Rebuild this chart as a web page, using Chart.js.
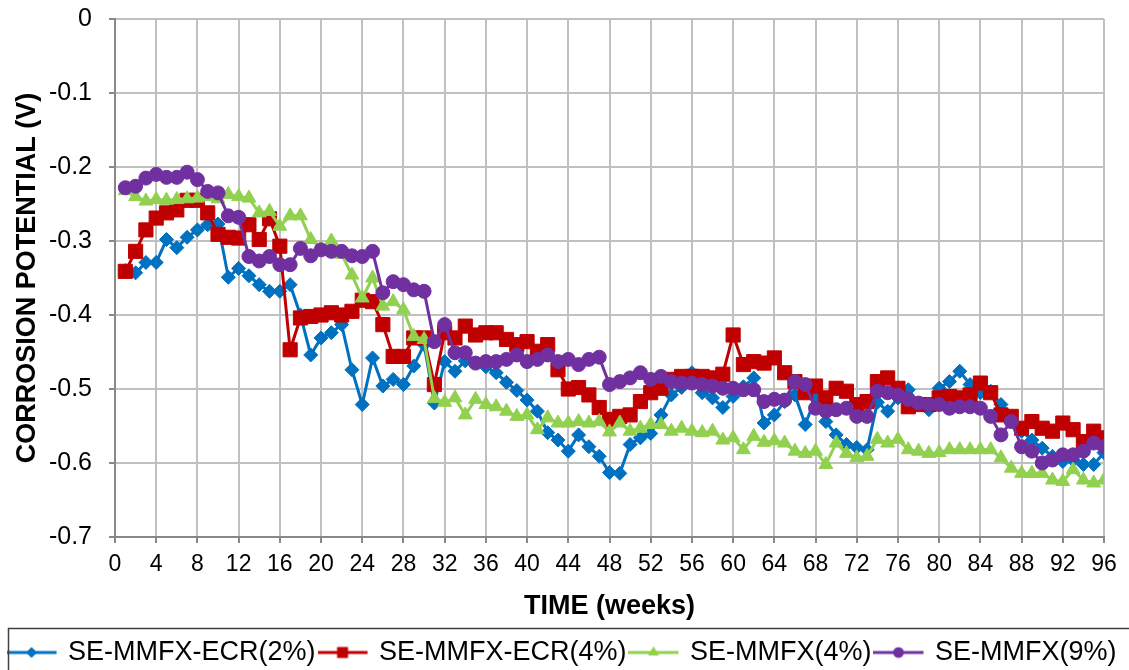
<!DOCTYPE html>
<html>
<head>
<meta charset="utf-8">
<script src="https://cdn.jsdelivr.net/npm/chart.js@4/dist/chart.umd.min.js"></script>
<style>
html,body{margin:0;padding:0;background:#fff;}
#wrap{width:1129px;height:670px;position:relative;}
</style>
</head>
<body>
<div id="wrap"><canvas id="c" width="1129" height="670"></canvas></div>
<script>
const weeks = [1,2,3,4,5,6,7,8,9,10,11,12,13,14,15,16,17,18,19,20,21,22,23,24,25,26,27,28,29,30,31,32,33,34,35,36,37,38,39,40,41,42,43,44,45,46,47,48,49,50,51,52,53,54,55,56,57,58,59,60,61,62,63,64,65,66,67,68,69,70,71,72,73,74,75,76,77,78,79,80,81,82,83,84,85,86,87,88,89,90,91,92,93,94,95,96];

const ecr2 = [-0.34,-0.343,-0.329,-0.329,-0.298,-0.309,-0.295,-0.285,-0.278,-0.277,
 -0.349,-0.337,-0.347,-0.359,-0.368,-0.368,-0.359,-0.40,-0.454,-0.431,
 -0.424,-0.413,-0.474,-0.521,-0.458,-0.496,-0.487,-0.494,-0.469,-0.44,
 -0.519,-0.463,-0.476,-0.462,-0.465,-0.47,-0.478,-0.491,-0.502,-0.515,
 -0.53,-0.559,-0.569,-0.584,-0.562,-0.578,-0.591,-0.613,-0.614,-0.575,
 -0.566,-0.56,-0.535,-0.508,-0.498,-0.478,-0.505,-0.512,-0.525,-0.51,
 -0.497,-0.485,-0.546,-0.535,-0.517,-0.508,-0.548,-0.512,-0.544,-0.562,
 -0.575,-0.579,-0.582,-0.518,-0.53,-0.512,-0.501,-0.519,-0.528,-0.499,
 -0.49,-0.476,-0.494,-0.505,-0.503,-0.521,-0.541,-0.557,-0.569,-0.58,
 -0.591,-0.598,-0.596,-0.602,-0.602,-0.586];

const ecr4 = [-0.341,-0.314,-0.285,-0.269,-0.262,-0.258,-0.245,-0.245,-0.262,-0.291,
 -0.295,-0.296,-0.278,-0.298,-0.27,-0.307,-0.447,-0.404,-0.402,-0.40,
 -0.397,-0.40,-0.395,-0.38,-0.382,-0.413,-0.456,-0.456,-0.431,-0.431,
 -0.494,-0.424,-0.431,-0.415,-0.427,-0.424,-0.424,-0.433,-0.44,-0.436,
 -0.449,-0.44,-0.474,-0.50,-0.498,-0.508,-0.525,-0.541,-0.537,-0.535,
 -0.517,-0.505,-0.499,-0.487,-0.483,-0.483,-0.483,-0.485,-0.48,-0.427,
 -0.467,-0.463,-0.465,-0.458,-0.478,-0.49,-0.505,-0.496,-0.512,-0.499,
 -0.503,-0.521,-0.517,-0.49,-0.485,-0.499,-0.524,-0.521,-0.521,-0.512,
 -0.51,-0.512,-0.508,-0.492,-0.505,-0.535,-0.537,-0.553,-0.544,-0.553,
 -0.557,-0.546,-0.555,-0.571,-0.557,-0.566];

const mmfx4 = [-0.232,-0.24,-0.246,-0.244,-0.245,-0.244,-0.243,-0.242,-0.24,-0.243,
 -0.237,-0.24,-0.242,-0.262,-0.26,-0.28,-0.266,-0.266,-0.298,-0.31,
 -0.30,-0.318,-0.346,-0.377,-0.35,-0.388,-0.382,-0.393,-0.429,-0.433,
 -0.513,-0.518,-0.512,-0.535,-0.514,-0.521,-0.524,-0.53,-0.537,-0.535,
 -0.555,-0.539,-0.546,-0.546,-0.544,-0.546,-0.544,-0.558,-0.546,-0.557,
 -0.553,-0.548,-0.548,-0.557,-0.553,-0.557,-0.559,-0.557,-0.569,-0.566,
 -0.582,-0.564,-0.572,-0.57,-0.573,-0.584,-0.587,-0.584,-0.602,-0.573,
 -0.587,-0.593,-0.591,-0.568,-0.573,-0.568,-0.582,-0.584,-0.587,-0.586,
 -0.582,-0.582,-0.582,-0.582,-0.582,-0.593,-0.607,-0.614,-0.614,-0.614,
 -0.623,-0.625,-0.609,-0.623,-0.627,-0.623];

const mmfx9 = [-0.228,-0.226,-0.215,-0.21,-0.214,-0.214,-0.207,-0.217,-0.233,-0.235,
 -0.266,-0.268,-0.321,-0.327,-0.321,-0.332,-0.332,-0.31,-0.32,-0.312,
 -0.314,-0.314,-0.32,-0.321,-0.314,-0.37,-0.355,-0.359,-0.366,-0.368,
 -0.436,-0.413,-0.451,-0.451,-0.465,-0.463,-0.463,-0.46,-0.454,-0.463,
 -0.46,-0.454,-0.463,-0.46,-0.467,-0.46,-0.457,-0.494,-0.49,-0.485,
 -0.478,-0.487,-0.483,-0.49,-0.492,-0.492,-0.494,-0.496,-0.499,-0.499,
 -0.501,-0.501,-0.517,-0.514,-0.515,-0.49,-0.494,-0.526,-0.53,-0.528,
 -0.526,-0.537,-0.537,-0.503,-0.505,-0.508,-0.514,-0.519,-0.521,-0.521,
 -0.526,-0.524,-0.524,-0.526,-0.537,-0.562,-0.544,-0.578,-0.584,-0.60,
 -0.596,-0.589,-0.589,-0.584,-0.573,-0.578];

const seriesNames = ['SE-MMFX-ECR(2%)','SE-MMFX-ECR(4%)','SE-MMFX(4%)','SE-MMFX(9%)'];
const seriesColors = ['#0070C0','#C00000','#92D050','#7030A0'];
const seriesStyles = ['rectRot','rect','triangle','circle'];
const seriesRadius = [7,10,8,7];
const seriesValues = [ecr2, ecr4, mmfx4, mmfx9];

const xTickStep = 4;
const yMin = -0.7, yMax = 0, yStep = 0.1;

const FONT = "'Liberation Sans', Arial, sans-serif";

function legendIcon(style, color, r) {
  const cv = document.createElement('canvas');
  cv.width = 54; cv.height = 20;
  const ctx = cv.getContext('2d');
  ctx.strokeStyle = color; ctx.lineWidth = 3;
  ctx.beginPath(); ctx.moveTo(0, 10); ctx.lineTo(50, 10); ctx.stroke();
  ctx.fillStyle = color;
  Chart.helpers.drawPoint(ctx, {pointStyle: style, radius: r, borderWidth: 0, rotation: 0}, 25, 10);
  ctx.fill();
  return cv;
}

const datasets = seriesValues.map((vals, i) => ({
  label: seriesNames[i],
  data: weeks.map((w, j) => ({x: w, y: vals[j]})),
  borderColor: seriesColors[i],
  backgroundColor: seriesColors[i],
  pointBackgroundColor: seriesColors[i],
  pointBorderColor: seriesColors[i],
  pointBorderWidth: 1,
  pointStyle: seriesStyles[i],
  pointRadius: seriesRadius[i],
  borderWidth: 3,
  tension: 0,
  order: 4 - i
}));

const legendBox = {
  id: 'legendBox',
  afterDraw(chart) {
    const lg = chart.legend;
    const ctx = chart.ctx;
    ctx.save();
    ctx.strokeStyle = '#404040';
    ctx.lineWidth = 1.5;
    ctx.strokeRect(8.5, lg.top - 2.5, 1135, 60);
    ctx.restore();
  }
};

new Chart(document.getElementById('c'), {
  type: 'line',
  data: { datasets },
  plugins: [legendBox],
  options: {
    responsive: false,
    animation: false,
    layout: { padding: { top: 19, left: 0, right: 0, bottom: -6 } },
    plugins: {
      tooltip: { enabled: false },
      legend: {
        position: 'bottom',
        labels: {
          usePointStyle: true,
          pointStyleWidth: 42,
          padding: 8,
          color: '#000',
          font: { family: FONT, size: 27 },
          sort: (a, b) => a.datasetIndex - b.datasetIndex,
          generateLabels: (chart) => chart.data.datasets.map((ds, i) => ({
            text: ds.label,
            datasetIndex: i,
            pointStyle: legendIcon(seriesStyles[i], seriesColors[i], seriesRadius[i] * 0.75),
            fillStyle: seriesColors[i],
            strokeStyle: seriesColors[i],
            lineWidth: 0,
            fontColor: '#000',
            hidden: false
          }))
        }
      }
    },
    scales: {
      x: {
        type: 'linear',
        min: 0, max: 96,
        afterFit: (s) => { s.height = 94; s.paddingLeft = 10; s.paddingRight = 10; },
        ticks: { stepSize: xTickStep, autoSkip: false, maxRotation: 0, padding: 8, color: '#000', font: { family: FONT, size: 23 } },
        grid: { color: '#c0c0c0', lineWidth: 2, tickLength: 6, tickColor: '#888' },
        border: { color: '#888', width: 2 },
        title: { display: true, text: 'TIME (weeks)', color: '#000', font: { family: FONT, size: 27, weight: 'bold' }, padding: { top: 0, bottom: 8 } }
      },
      y: {
        type: 'linear',
        min: yMin, max: yMax,
        afterFit: (s) => { s.width = 115; s.paddingTop = 12; s.paddingBottom = 12; },
        ticks: { stepSize: yStep, padding: 17, color: '#000', font: { family: FONT, size: 25 },
          callback: (v) => { const n = Math.round(v * 10) / 10; return n === 0 ? '0' : n.toFixed(1); } },
        grid: { color: '#c0c0c0', lineWidth: 2, tickLength: 6, tickColor: '#888' },
        border: { color: '#888', width: 2 },
        title: { display: true, text: 'CORROSION POTENTIAL (V)', color: '#000', font: { family: FONT, size: 27, weight: 'bold' }, padding: { top: 11, bottom: 0 } }
      },
      y2: {
        type: 'linear',
        position: 'right',
        min: yMin, max: yMax,
        afterFit: (s) => { s.width = 25; s.paddingTop = 0; s.paddingBottom = 0; },
        ticks: { display: false },
        grid: { drawOnChartArea: false, drawTicks: false },
        border: { display: false }
      }
    }
  }
});
</script>
</body>
</html>
